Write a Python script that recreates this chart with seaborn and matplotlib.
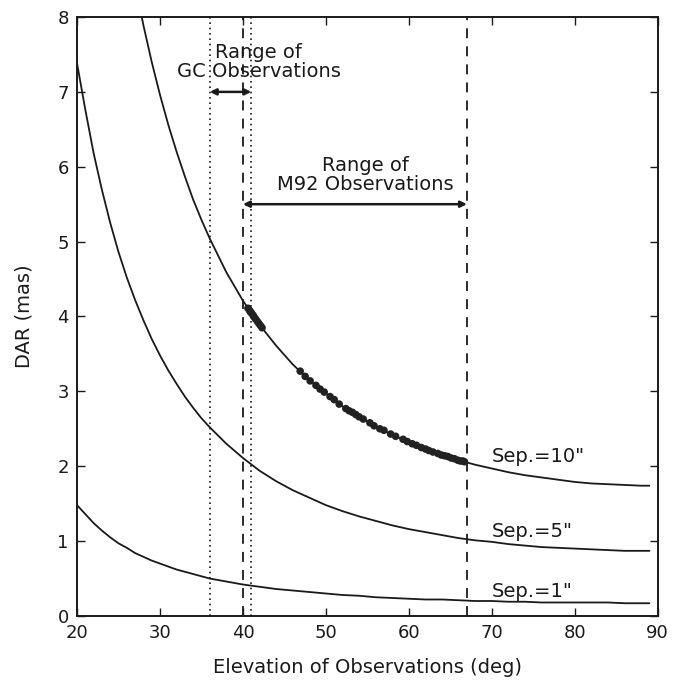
import matplotlib
matplotlib.use("Agg")
import matplotlib.pyplot as plt
import seaborn as sns
import pandas as pd

# Differential atmospheric refraction curves, tabulated per elevation (deg)
elev_10 = [27, 28, 29, 30, 31, 32, 33, 34, 35, 36, 38, 40, 42, 44, 46, 48, 50, 52, 54, 56,
           58, 60, 62, 64, 66, 68, 70, 72, 74, 76, 78, 80, 82, 84, 86, 88, 89]
dar_10 = [8.44, 7.89, 7.40, 6.96, 6.56, 6.20, 5.87, 5.56, 5.29, 5.04, 4.59, 4.21, 3.89, 3.61,
          3.36, 3.15, 2.97, 2.80, 2.66, 2.53, 2.42, 2.32, 2.23, 2.15, 2.08, 2.02, 1.97, 1.92,
          1.88, 1.85, 1.82, 1.79, 1.77, 1.76, 1.75, 1.74, 1.74]

elev_5 = [20, 21, 22, 23, 24, 25, 26, 27, 28, 29, 30, 31, 32, 33, 34, 35, 36, 38, 40, 42, 44,
          46, 48, 50, 52, 54, 56, 58, 60, 62, 64, 66, 68, 70, 72, 74, 76, 78, 80, 82, 84, 86,
          88, 89]
dar_5 = [7.38, 6.76, 6.18, 5.69, 5.25, 4.86, 4.52, 4.22, 3.95, 3.70, 3.48, 3.28, 3.10, 2.93,
         2.78, 2.64, 2.52, 2.30, 2.11, 1.94, 1.80, 1.68, 1.58, 1.48, 1.40, 1.33, 1.27, 1.21,
         1.16, 1.12, 1.08, 1.04, 1.01, 0.99, 0.96, 0.94, 0.92, 0.91, 0.90, 0.89, 0.88, 0.87,
         0.87, 0.87]

elev_1 = [20, 21, 22, 23, 24, 25, 26, 27, 28, 29, 30, 31, 32, 33, 34, 35, 36, 38, 40, 42, 44,
          46, 48, 50, 52, 54, 56, 58, 60, 62, 64, 66, 68, 70, 72, 74, 76, 78, 80, 82, 84, 86,
          88, 89]
dar_1 = [1.48, 1.36, 1.24, 1.14, 1.05, 0.97, 0.91, 0.84, 0.79, 0.74, 0.70, 0.66, 0.62, 0.59,
         0.56, 0.53, 0.50, 0.46, 0.42, 0.39, 0.36, 0.34, 0.32, 0.30, 0.28, 0.27, 0.25, 0.24,
         0.23, 0.22, 0.22, 0.21, 0.20, 0.20, 0.19, 0.19, 0.18, 0.18, 0.18, 0.18, 0.18, 0.17,
         0.17, 0.17]

# M92 observations (elevation, DAR for a 10" pair)
obs_elev = [40.6, 40.8, 40.9, 41.0, 41.2, 41.3, 41.5, 41.7, 41.9, 42.1, 42.3,
            46.9, 47.5, 48.1, 48.8, 49.3, 49.8, 50.5, 51.0, 51.6, 52.4, 52.8, 53.2, 53.6,
            54.0, 54.5, 55.3, 55.8, 56.5, 57.0, 57.8, 58.4, 59.3, 59.8, 60.4, 60.9, 61.5,
            62.0, 62.4, 62.9, 63.5, 63.9, 64.3, 64.7, 65.1, 65.5, 65.9, 66.2, 66.5, 66.7]
obs_dar = [4.11, 4.08, 4.06, 4.05, 4.02, 4.00, 3.97, 3.94, 3.91, 3.88, 3.85,
           3.27, 3.20, 3.14, 3.08, 3.03, 2.99, 2.93, 2.89, 2.83, 2.77, 2.74, 2.72, 2.69,
           2.66, 2.63, 2.58, 2.54, 2.50, 2.48, 2.43, 2.40, 2.36, 2.33, 2.30, 2.28, 2.25,
           2.23, 2.21, 2.19, 2.17, 2.15, 2.14, 2.13, 2.11, 2.10, 2.08, 2.07, 2.07, 2.06]

sep_labels = ['Sep.=10"', 'Sep.=5"', 'Sep.=1"']
sep_label_y = [2.05, 1.05, 0.25]

gc_range = [36, 41]
m92_range = [40, 67]

sns.set_theme(style="ticks")
plt.rcParams["font.family"] = ["DejaVu Sans"]

ink = "#1a1a1a"

curves = pd.concat([
    pd.DataFrame({"elev": elev_10, "dar": dar_10, "sep": 10}),
    pd.DataFrame({"elev": elev_5, "dar": dar_5, "sep": 5}),
    pd.DataFrame({"elev": elev_1, "dar": dar_1, "sep": 1}),
])
obs = pd.DataFrame({"elev": obs_elev, "dar": obs_dar})

fig = plt.figure(figsize=(6.88, 6.81), dpi=100)
ax = fig.add_axes([0.112, 0.0955, 0.844, 0.8795])

sns.lineplot(data=curves, x="elev", y="dar", units="sep", estimator=None,
             color=ink, lw=1.3, ax=ax, legend=False, sort=False)
sns.scatterplot(data=obs, x="elev", y="dar", color="#222222", s=30,
                edgecolor="none", ax=ax, zorder=3)

for x in gc_range:
    ax.axvline(x, color=ink, lw=1.2, ls=(0, (1, 2.2)))
for x in m92_range:
    ax.axvline(x, color=ink, lw=1.3, ls=(0, (5.5, 4.5)))

arrow = dict(arrowstyle="<|-|>", color=ink, lw=1.8, mutation_scale=9,
             shrinkA=0, shrinkB=0)
ax.annotate("", xy=(gc_range[0], 7.0), xytext=(gc_range[1], 7.0), arrowprops=arrow)
ax.annotate("", xy=(m92_range[0], 5.5), xytext=(m92_range[1], 5.5), arrowprops=arrow)

ax.text(41.9, 7.40, "Range of\nGC Observations", ha="center", va="center",
        fontsize=14, color=ink, linespacing=1.0)
ax.text(54.8, 5.89, "Range of\nM92 Observations", ha="center", va="center",
        fontsize=14, color=ink, linespacing=1.0)

for lab, y in zip(sep_labels, sep_label_y):
    ax.text(70.0, y, lab, ha="left", va="baseline", fontsize=14, color=ink)

ax.set_xlim(20, 90)
ax.set_ylim(0, 8)
ax.set_xticks(range(20, 91, 10))
ax.set_yticks(range(0, 9))
ax.set_xlabel("Elevation of Observations (deg)", fontsize=14, color=ink, labelpad=11)
ax.set_ylabel("DAR (mas)", fontsize=14, color=ink, labelpad=17)
ax.tick_params(direction="in", top=True, right=True, length=6, width=1.0,
               labelsize=13, colors=ink, pad=6)
for sp in ax.spines.values():
    sp.set_linewidth(1.4)
    sp.set_color(ink)

fig.savefig("out.png", dpi=100)
